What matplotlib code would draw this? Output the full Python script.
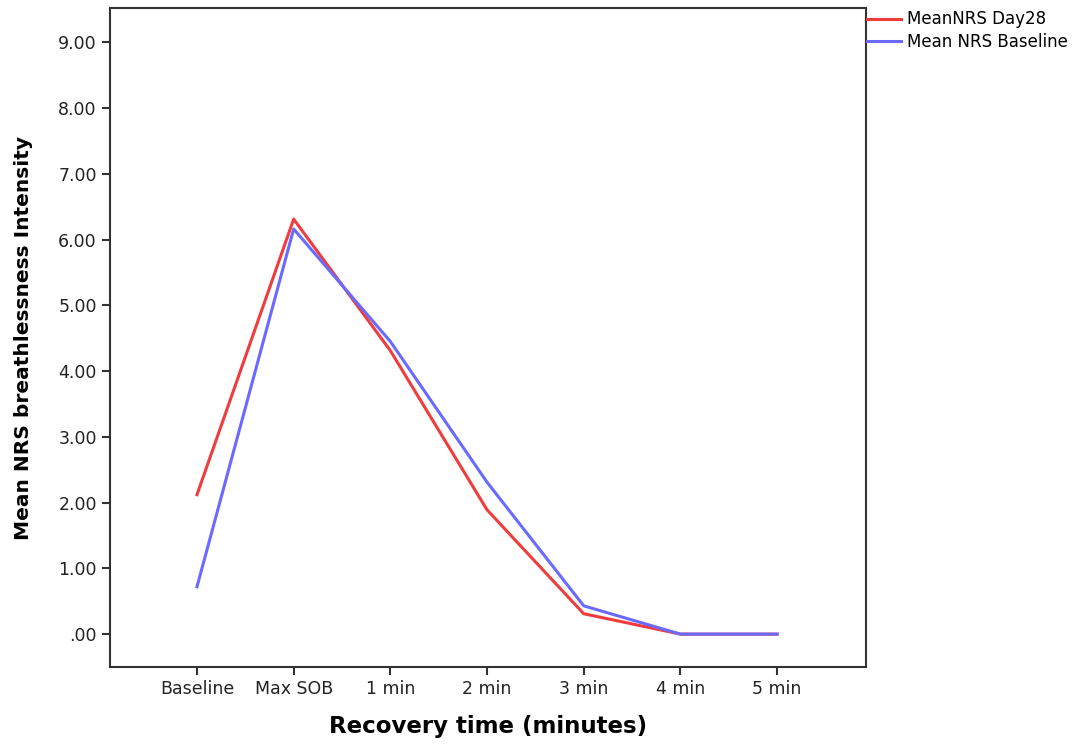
import matplotlib.pyplot as plt

plt.rcParams['font.family'] = ['DejaVu Sans']

times = ['Baseline', 'Max SOB', '1 min', '2 min', '3 min', '4 min', '5 min']
day28 = [2.12, 6.31, 4.31, 1.89, 0.31, 0.0, 0.0]
baseline = [0.72, 6.16, 4.45, 2.31, 0.43, 0.0, 0.0]
yticks = [0, 1, 2, 3, 4, 5, 6, 7, 8, 9]
ylabels = ['.00', '1.00', '2.00', '3.00', '4.00', '5.00', '6.00', '7.00', '8.00', '9.00']

fig = plt.figure(figsize=(10.91, 7.44), dpi=100)
ax = fig.add_axes([0.1008, 0.1035, 0.693, 0.8857])

x = range(len(times))
ln1, = ax.plot(x, day28, color='#f03c3c', lw=2.2, label='MeanNRS Day28')
ln2, = ax.plot(x, baseline, color='#6a6aff', lw=2.2, label='Mean NRS Baseline')

ax.set_xlim(-0.9, 6.92)
ax.set_ylim(-0.5, 9.52)
ax.set_xticks(list(x))
ax.set_xticklabels(times, fontsize=12.5)
ax.set_yticks(yticks)
ax.set_yticklabels(ylabels, fontsize=12.5)
ax.tick_params(direction='out', length=6, width=1.5, color='#333333', labelcolor='#222222')
for s in ax.spines.values():
    s.set_linewidth(1.5)
    s.set_color('#333333')

ax.set_xlabel('Recovery time (minutes)', fontsize=16.5, fontweight='bold', labelpad=12)
ax.set_ylabel('Mean NRS breathlessness Intensity', fontsize=14.5, fontweight='bold', labelpad=18)

fig.legend(handles=[ln1, ln2], loc='upper left', bbox_to_anchor=(0.789, 0.995),
           frameon=False, fontsize=12, handlelength=2.0, handletextpad=0.4,
           labelspacing=0.25, borderaxespad=0)

fig.savefig('out.png', dpi=100)
